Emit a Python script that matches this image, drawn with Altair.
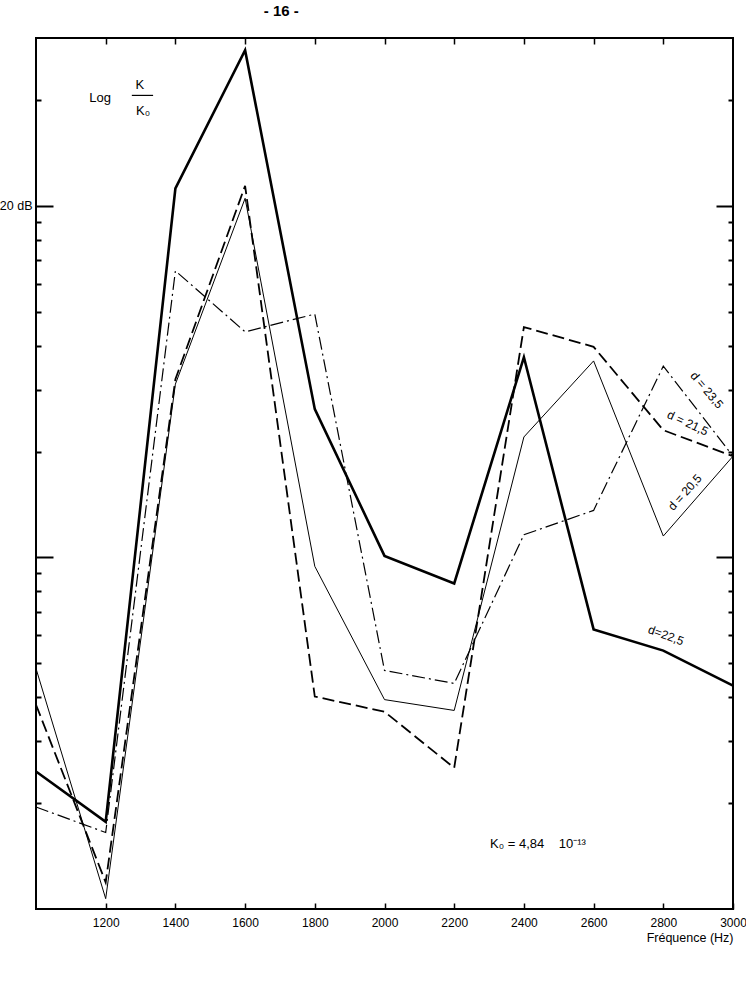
import altair as alt
import pandas as pd

# ---- data (K/K0 ratio, log scale; 10 = 20 dB) ----
freq = [1000, 1200, 1400, 1600, 1800, 2000, 2200, 2400, 2600, 2800, 3000]
d_225 = [0.246, 0.177, 11.2, 27.7, 2.64, 1.01, 0.843, 3.71, 0.624, 0.543, 0.432]   # thick solid
d_205 = [0.483, 0.107, 3.11, 10.5, 0.943, 0.394, 0.367, 2.20, 3.62, 1.15, 1.94]    # thin solid
d_215 = [0.381, 0.119, 3.21, 11.4, 0.402, 0.364, 0.252, 4.52, 3.97, 2.30, 1.94]    # dashed
d_235 = [0.195, 0.165, 6.53, 4.38, 4.92, 0.477, 0.438, 1.16, 1.36, 3.50, 1.94]     # dash-dot
series_names = ["d = 22,5", "d = 20,5", "d = 21,5", "d = 23,5"]
series_values = [d_225, d_205, d_215, d_235]

x_tick_values = [1200, 1400, 1600, 1800, 2000, 2200, 2400, 2600, 2800, 3000]
y_tick_values = [0.2, 0.3, 0.4, 0.5, 0.6, 0.7, 0.8, 0.9, 1, 2, 3, 4, 5, 6, 7, 8, 9, 10, 20]
y_major_values = [1, 10]
y_label_value = 10
y_label_text = "20 dB"

# curve labels (text, freq, ratio)
curve_label_text = ["d = 23,5", "d = 21,5", "d = 20,5", "d=22,5"]
curve_label_freq = [2925, 2870, 2862, 2808]
curve_label_ratio = [2.99, 2.41, 1.53, 0.60]

# annotation texts
note_text = ["Log", "K", "K\u2080", "K\u2080 = 4,84\u00a0\u00a0\u00a0 10\u207b\u00b9\u00b3"]
note_freq = [1184, 1298, 1307, 2303]
note_ratio = [20.3, 22.0, 18.6, 0.153]
frac_freq = [1275]
frac_freq2 = [1336]
frac_ratio = [20.6]

# ---- tables ----
rows = []
for name, vals in zip(series_names, series_values):
    for f, v in zip(freq, vals):
        rows.append({"freq": f, "ratio": v, "serie": name})
df = pd.DataFrame(rows)

FONT = "Liberation Sans"

xscale = alt.Scale(domain=[1000, 3000], nice=False, zero=False)
yscale = alt.Scale(type="log", domain=[0.1, 30], nice=False)

major_test = " || ".join(f"datum.value == {v}" for v in y_major_values)
y_tick_expr = f"({major_test}) ? -17 : -5"

bottom_axis = alt.Axis(
    orient="bottom", values=x_tick_values, format="d", title="Fréquence (Hz)",
    titleAnchor="end", titleFont=FONT, titleFontSize=12.5, titleFontWeight="normal",
    titleColor="black", titlePadding=3,
    labelFont=FONT, labelFontSize=12, labelColor="black", labelPadding=14,
    tickSize=alt.ExprRef(expr="-6"), tickColor="black", tickWidth=1.5,
    domain=False, grid=False, labelFlush=False,
)
left_axis = alt.Axis(
    orient="left", values=y_tick_values, title=None,
    labelExpr=f"datum.value == {y_label_value} ? '{y_label_text}' : ''",
    labelFont=FONT, labelFontSize=12.5, labelColor="black", labelPadding=21,
    tickSize=alt.ExprRef(expr=y_tick_expr), tickColor="black", tickWidth=2,
    domain=False, grid=False,
)
top_axis = alt.Axis(
    orient="top", values=x_tick_values[:-1], title=None, labels=False,
    tickSize=alt.ExprRef(expr="-6"), tickColor="black", tickWidth=1.5,
    domain=False, grid=False,
)
right_axis = alt.Axis(
    orient="right", values=y_tick_values, title=None, labels=False,
    tickSize=alt.ExprRef(expr=y_tick_expr), tickColor="black", tickWidth=2,
    domain=False, grid=False,
)

X = alt.X("freq:Q", scale=xscale, axis=bottom_axis)
Y = alt.Y("ratio:Q", scale=yscale, axis=left_axis)

styles = {
    "d = 22,5": dict(strokeWidth=2.6),
    "d = 20,5": dict(strokeWidth=1.0),
    "d = 21,5": dict(strokeWidth=1.8, strokeDash=[12, 5]),
    "d = 23,5": dict(strokeWidth=1.2, strokeDash=[13, 4, 2, 4]),
}

lines = [
    alt.Chart(df).transform_filter(alt.datum.serie == n)
    .mark_line(color="black", strokeJoin="miter", **styles[n])
    .encode(x=X, y=Y)
    for n in series_names
]

lab_df = pd.DataFrame({"freq": curve_label_freq, "ratio": curve_label_ratio, "txt": curve_label_text})
label_angles = [50, 25, 312, 20]
curve_labels = [
    alt.Chart(lab_df.iloc[[i]]).mark_text(
        font=FONT, fontSize=12, color="black", angle=a, align="center", baseline="middle"
    ).encode(x=X, y=Y, text="txt:N")
    for i, a in enumerate(label_angles)
]

note_df = pd.DataFrame({"freq": note_freq, "ratio": note_ratio, "txt": note_text})
notes_center = alt.Chart(note_df.iloc[:3]).mark_text(
    font=FONT, fontSize=13, color="black", align="center", baseline="middle"
).encode(x=X, y=Y, text="txt:N")
notes_left = alt.Chart(note_df.iloc[3:]).mark_text(
    font=FONT, fontSize=13, color="black", align="left", baseline="middle"
).encode(x=X, y=Y, text="txt:N")

frac_df = pd.DataFrame({"freq": frac_freq, "freq2": frac_freq2, "ratio": frac_ratio})
frac_bar = alt.Chart(frac_df).mark_rule(color="black", strokeWidth=1.2).encode(
    x=X, x2="freq2:Q", y=Y
)

inner = alt.layer(*lines, *curve_labels, notes_center, notes_left, frac_bar)

axes_layer = alt.Chart(df).mark_point(opacity=0).encode(
    x=alt.X("freq:Q", scale=xscale, axis=top_axis),
    y=alt.Y("ratio:Q", scale=yscale, axis=right_axis),
)

chart = (
    alt.layer(inner, axes_layer)
    .resolve_axis(x="independent", y="independent")
    .properties(
        width=697, height=871,
        padding={"left": 36, "top": 38, "right": 13, "bottom": 95},
        autosize=alt.AutoSizeParams(type="none"),
        background="white",
        title=alt.TitleParams(
            text="- 16 -", anchor="start", align="center", dx=282, offset=18,
            font=FONT, fontSize=15, fontWeight="bold", color="black",
        ),
    )
    .configure_view(stroke="black", strokeWidth=2)
)

chart.save("out.html", embed_options={"renderer": "svg", "actions": False})
